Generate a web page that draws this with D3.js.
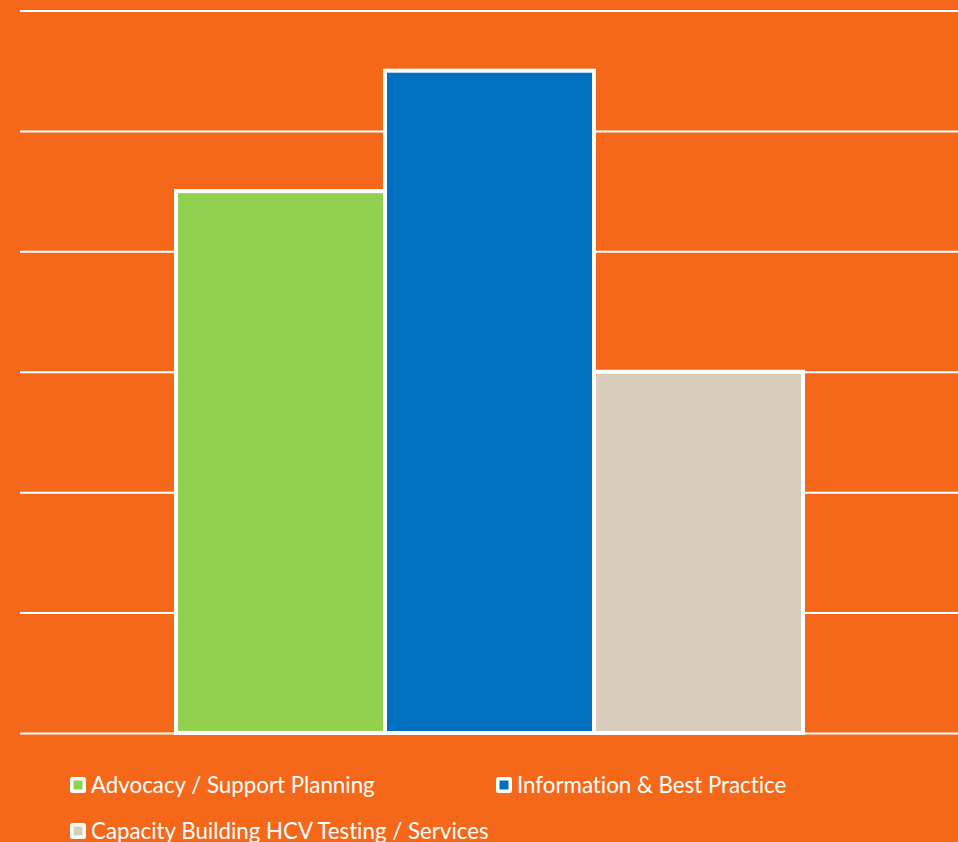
<!DOCTYPE html>
<html>
<head>
<meta charset="utf-8">
<script src="https://cdn.jsdelivr.net/npm/d3@7"></script>
<style>
  html, body { margin: 0; padding: 0; background: #F5681A; }
  svg { display: block; }
  text { font-variant-ligatures: none; }
</style>
</head>
<body>
<svg id="chart" width="958" height="842"></svg>
<script>
// Survey categories and their scores
const categories = ["Advocacy / Support Planning", "Information & Best Practice", "Capacity Building HCV Testing / Services"];
const values = [4.5, 5.5, 3.0];
const colors = ["#92D050", "#0070C0", "#D9CEBB"];
const yTicks = [0, 1, 2, 3, 4, 5, 6];

const svg = d3.select("#chart");
const W = 958, H = 842;
const plot = { left: 20, right: 958, top: 10.5, bottom: 733 };

svg.append("rect").attr("width", W).attr("height", H).attr("fill", "#F5681A");

const y = d3.scaleLinear().domain([0, 6]).range([plot.bottom, plot.top]);
const x = d3.scaleBand().domain(categories).range([176, 803]).paddingInner(0).paddingOuter(0);

// Horizontal gridlines
const yAxis = d3.axisLeft(y).tickValues(yTicks).tickSize(-(plot.right - plot.left)).tickFormat("");
const ga = svg.append("g").attr("transform", `translate(${plot.left},0)`).call(yAxis);
ga.select(".domain").remove();
ga.selectAll(".tick line").attr("stroke", "#FFFFFF").attr("stroke-width", 2);

// Bars
svg.append("g").selectAll("rect").data(categories).join("rect")
  .attr("x", d => x(d))
  .attr("y", (d, i) => y(values[i]))
  .attr("width", x.bandwidth())
  .attr("height", (d, i) => y(0) - y(values[i]))
  .attr("fill", (d, i) => colors[i])
  .attr("stroke", "#FFFFFF")
  .attr("stroke-width", 4);

// Legend
const legendPos = [
  { mx: 70, cy: 785 },
  { mx: 496, cy: 785 },
  { mx: 70, cy: 831 }
];
const lg = svg.append("g").selectAll("g").data(categories).join("g")
  .attr("transform", (d, i) => `translate(${legendPos[i].mx},${legendPos[i].cy})`);
lg.append("rect").attr("x", 0).attr("y", -8).attr("width", 16).attr("height", 16)
  .attr("rx", 2.5).attr("fill", "#FFFFFF");
lg.append("rect").attr("x", 3.5).attr("y", -4.5).attr("width", 9).attr("height", 9)
  .attr("fill", (d, i) => colors[i]);
lg.append("text").attr("x", 21).attr("y", 7.5)
  .attr("fill", "#FFFFFF")
  .attr("font-family", "Lato, 'Open Sans', sans-serif")
  .attr("font-size", 22.3)
  .text(d => d);
</script>
</body>
</html>
